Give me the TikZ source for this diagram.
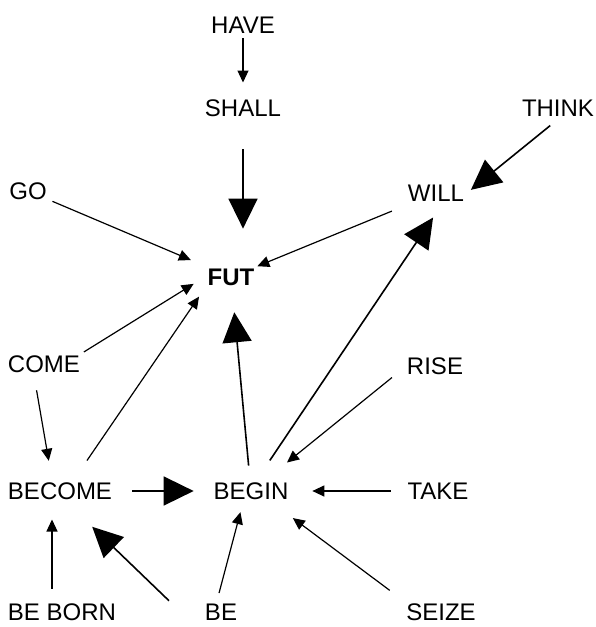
\documentclass[tikz,border=0pt]{standalone}
\usepackage{fontspec}
\setmainfont{Liberation Sans}
\usetikzlibrary{arrows.meta}

\begin{document}
\begin{tikzpicture}[
  x=1pt,y=-1pt,
  font=\fontsize{24}{28}\selectfont,
  wd/.style={inner sep=3pt,outer sep=0pt},
  arr/.style={-{Triangle[length=12pt,width=11pt]},line width=1.2pt},
  barr/.style={-{Triangle[length=30pt,width=29pt]},line width=1.6pt}
]
\useasboundingbox (0,0) rectangle (595,627);

% cuvintele (coordonate in pixeli, y in jos)
\node[wd] (have)   at (243,25)  {HAVE};
\node[wd] (shall)  at (243,108) {SHALL};
\node[wd] (think)  at (558,108) {THINK};
\node[wd] (go)     at (28,191)  {GO};
\node[wd] (will)   at (436,193) {WILL};
\node[wd] (fut)    at (231,277) {\bfseries FUT};
\node[wd] (come)   at (44,364)  {COME};
\node[wd] (rise)   at (435,366) {RISE};
\node[wd] (becone) at (60,491)  {BECOME};
\node[wd] (begin)  at (251,491) {BEGIN};
\node[wd] (take)   at (438,491) {TAKE};
\node[wd] (beborn) at (62,612)  {BE BORN};
\node[wd] (be)     at (221,612) {BE};
\node[wd] (seize)  at (441,612) {SEIZE};

% sagetile spre FUT
\draw[arr,shorten <=2pt,shorten >=14pt] (have) -- (shall);
\draw[barr,shorten <=30pt,shorten >=37pt] (shall.south) -- (shall.south |- fut.north);
\draw[arr,shorten <=3pt,shorten >=15pt] (go) -- (fut);
\draw[arr,shorten <=18pt] (will) -- (fut);
\draw[arr,shorten <=1pt,shorten >=13pt] (come.north east) -- (fut.west);
\draw[arr,shorten <=23pt,shorten >=10pt] ([xshift=14pt]becone.north) -- (fut.south west);
\draw[barr,shorten <=14pt,shorten >=24pt] (begin) -- (fut);

% sagetile spre WILL
\draw[barr,shorten <=10pt,shorten >=5pt] (think.south) -- (will.east);
\draw[barr,shorten <=23pt,shorten >=16pt] ([xshift=6pt]begin.north) -- ([xshift=6pt]will.south);

% sagetile spre BECOME
\draw[arr,shorten <=15pt,shorten >=19pt] ([xshift=-10pt]come.south) -- ([xshift=-8pt]becone.north);
\draw[arr,shorten <=12pt,shorten >=17pt] ([xshift=-10pt]beborn.north) -- ([xshift=-8pt]becone.south);
\draw[barr,shorten >=35pt] ([xshift=-33pt]be.north west) -- ([xshift=7pt]becone.south);

% sagetile spre BEGIN
\draw[barr,shorten <=17pt,shorten >=17pt] (becone) -- (begin);
\draw[arr,shorten >=27pt] ([xshift=-12pt]rise.south west) -- ([xshift=15pt]begin.north);
\draw[arr,shorten <=14pt,shorten >=21pt] (take) -- (begin);
\draw[arr,shorten <=17pt,shorten >=26pt] (seize.north west) -- ([xshift=21pt]begin.south);
\draw[arr,shorten <=8pt,shorten >=10pt] ([xshift=-4pt]be.north) -- ([xshift=-8pt]begin.south);

\end{tikzpicture}
\end{document}
